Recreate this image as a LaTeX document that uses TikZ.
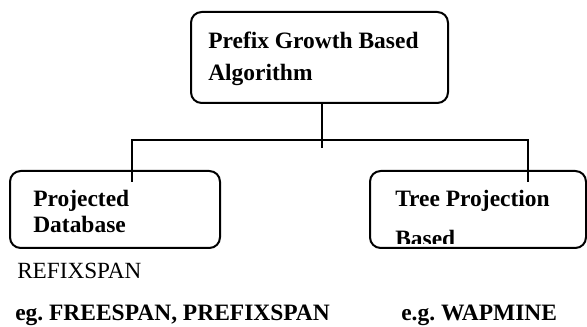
\documentclass[tikz,border=0pt]{standalone}
\usepackage{fontspec}
\setmainfont{Liberation Serif}
\frenchspacing
\begin{document}
\begin{tikzpicture}[x=0.75pt,y=-0.75pt,
  box/.style={draw,line width=1.5pt,rounded corners=8pt},
  wire/.style={line width=1.3pt},
  boxtext/.style={anchor=base west,inner sep=0pt,font=\fontsize{17.6}{20}\selectfont\bfseries},
  plaintext/.style={anchor=base west,inner sep=0pt,font=\fontsize{17.4}{20}\selectfont}]
\useasboundingbox (0,0) rectangle (587,327);

% boxes
\draw[box] (191,12) rectangle (448,103);
\draw[box] (10,171) rectangle (220,248);
\draw[box] (370,171) rectangle (586,248);

\coordinate (top) at (322,103);
\coordinate (stem) at (322,148);
\coordinate (hl) at (132,140);
\coordinate (hr) at (528,140);
\coordinate (lt) at (132,182);
\coordinate (rt) at (528,182);

% connectors
\draw[wire] (top) -- (stem);
\draw[wire] (lt) -- (hl) -- (hr) -- (rt);

% box labels
\node[boxtext] (t1) at (208,49) {Prefix Growth Based};
\node[boxtext] (t2) at (208,81) {Algorithm};
\node[boxtext] (l1) at (33,207) {Projected};
\node[boxtext] (l2) at (33,233) {Database};
\node[boxtext] (r1) at (395,207) {Tree Projection};
\begin{scope}
  \clip (370,171) rectangle (586,244);
  \node[boxtext] (r2) at (395,247) {Based};
\end{scope}

% notes below
\node[plaintext] (n1) at (17,279) {REFIXSPAN};
\node[boxtext] (n2) at (15,321) {eg. FREESPAN, PREFIXSPAN};
\node[boxtext] (n3) at (401,321) {e.g. WAPMINE};
\end{tikzpicture}
\end{document}
